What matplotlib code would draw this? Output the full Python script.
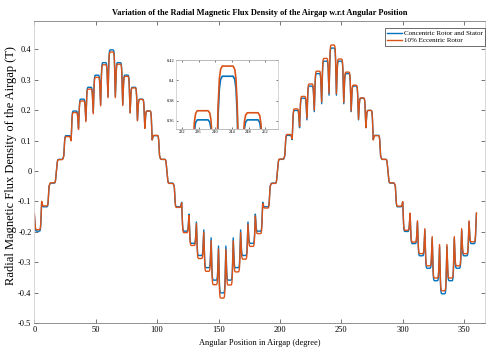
import matplotlib
matplotlib.use("Agg")
import matplotlib.pyplot as plt
import numpy as np
from matplotlib.ticker import FuncFormatter, MultipleLocator

plt.rcParams["font.family"] = ["Liberation Serif", "DejaVu Serif"]
plt.rcParams["axes.unicode_minus"] = False

# slot centre angles in degrees (60 slots, 0..360)
SLOT_DEG = list(range(0, 361, 6))

# flux density on each tooth (T), tooth k lies between slot k and slot k+1
TOOTH_CONC = [
    -0.198, -0.118, -0.040, 0.038, 0.116, 0.197, 0.236, 0.275, 0.315, 0.356,
    0.398, 0.356, 0.315, 0.275, 0.236, 0.197, 0.116, 0.038, -0.040, -0.118,
    -0.198, -0.238, -0.278, -0.318, -0.359, -0.401, -0.359, -0.318, -0.278, -0.238,
    -0.198, -0.118, -0.040, 0.038, 0.117, 0.199, 0.239, 0.279, 0.320, 0.361,
    0.404, 0.361, 0.320, 0.279, 0.239, 0.199, 0.117, 0.038, -0.040, -0.118,
    -0.199, -0.239, -0.279, -0.320, -0.361, -0.404, -0.361, -0.320, -0.279, -0.239,
]
TOOTH_ECC = [
    -0.193, -0.115, -0.039, 0.037, 0.113, 0.192, 0.230, 0.269, 0.308, 0.349,
    0.391, 0.351, 0.311, 0.273, 0.235, 0.197, 0.117, 0.038, -0.041, -0.120,
    -0.203, -0.245, -0.288, -0.330, -0.374, -0.418, -0.375, -0.332, -0.290, -0.248,
    -0.206, -0.122, -0.041, 0.039, 0.120, 0.204, 0.245, 0.286, 0.328, 0.370,
    0.414, 0.368, 0.325, 0.282, 0.240, 0.199, 0.116, 0.038, -0.039, -0.116,
    -0.195, -0.234, -0.272, -0.312, -0.352, -0.394, -0.352, -0.312, -0.272, -0.233,
]

# flux density at the bottom of each slot dip (T)
SLOT_CONC = [
    -0.142, -0.103, -0.051, -0.001, 0.050, 0.102, 0.141, 0.166, 0.192, 0.218,
    0.245, 0.245, 0.218, 0.192, 0.166, 0.141, 0.102, 0.050, -0.001, -0.051,
    -0.103, -0.142, -0.168, -0.194, -0.220, -0.247, -0.247, -0.220, -0.194, -0.168,
    -0.142, -0.103, -0.051, -0.001, 0.050, 0.103, 0.142, 0.168, 0.195, 0.221,
    0.249, 0.249, 0.221, 0.195, 0.168, 0.142, 0.103, 0.050, -0.001, -0.051,
    -0.103, -0.142, -0.168, -0.195, -0.221, -0.249, -0.249, -0.221, -0.195, -0.168,
    -0.142,
]
SLOT_ECC = [
    -0.138, -0.100, -0.050, -0.001, 0.049, 0.099, 0.137, 0.162, 0.188, 0.214,
    0.241, 0.241, 0.215, 0.190, 0.165, 0.140, 0.102, 0.050, -0.001, -0.052,
    -0.105, -0.146, -0.173, -0.201, -0.229, -0.257, -0.258, -0.230, -0.202, -0.175,
    -0.148, -0.107, -0.053, -0.001, 0.052, 0.105, 0.146, 0.173, 0.200, 0.227,
    0.255, 0.254, 0.225, 0.197, 0.170, 0.143, 0.102, 0.050, -0.001, -0.050,
    -0.101, -0.139, -0.164, -0.190, -0.216, -0.242, -0.242, -0.216, -0.190, -0.164,
    -0.138,
]

LABELS = ["Concentric Rotor and Stator", "10% Eccentric Rotor"]
COLORS = ["#0072BD", "#D95319"]

# shape of a slot flank: offset from slot centre (deg) and fraction of the rise
FLANK_OFF = [0.7, 1.0, 1.3, 1.7]
FLANK_FRAC = [0.75, 0.92, 0.98, 1.0]


def build_trace(tooth, slot):
    # tooth plateaus joined through the slot dips
    xs, ys = [], []
    n = len(tooth)
    for k, s in enumerate(SLOT_DEG):
        d = slot[k]
        if k > 0:
            prev = tooth[k - 1]
            for off, fr in zip(FLANK_OFF[::-1], FLANK_FRAC[::-1]):
                xs.append(s - off)
                ys.append(d + fr * (prev - d))
        xs.append(s)
        ys.append(d)
        if k < n:
            nxt = tooth[k]
            for off, fr in zip(FLANK_OFF, FLANK_FRAC):
                xs.append(s + off)
                ys.append(d + fr * (nxt - d))
    return np.array(xs), np.array(ys)


def tick_fmt(v, _pos):
    return f"{round(v, 6) + 0.0:g}"


def style_axes(ax, size, spine_col):
    for side in ["top", "bottom"]:
        ax.spines[side].set_color(spine_col)
        ax.spines[side].set_linewidth(0.6)
    for side in ["left", "right"]:
        ax.spines[side].set_color("#d0d0d0")
        ax.spines[side].set_linewidth(0.6)
    ax.tick_params(direction="in", top=True, right=True, length=3, width=0.5,
                   color="#404040", labelsize=size, pad=2)


traces = [build_trace(TOOTH_CONC, SLOT_CONC), build_trace(TOOTH_ECC, SLOT_ECC)]

fig = plt.figure(figsize=(4.87, 3.56), dpi=100)
ax = fig.add_axes([34.3 / 487, 1 - 323 / 356, (485 - 34.3) / 487, (323 - 21) / 356])

for (x, y), lab, col in zip(traces, LABELS, COLORS):
    ax.plot(x, y, color=col, lw=1.0, label=lab)

ax.set_xlim(0, 367)
ax.set_ylim(-0.5, 0.493)
ax.xaxis.set_major_locator(MultipleLocator(50))
ax.yaxis.set_major_locator(MultipleLocator(0.1))
ax.yaxis.set_major_formatter(FuncFormatter(tick_fmt))
style_axes(ax, 6, "#808080")

ax.set_title("Variation of the Radial Magnetic Flux Density of the Airgap w.r.t Angular Position",
             fontsize=6, fontweight="bold", pad=4)
ax.set_xlabel("Angular Position in Airgap (degree)", fontsize=6, labelpad=4)
ax.set_ylabel("Radial Magnetic Flux Density of the Airgap (T)", fontsize=9.0)
ax.yaxis.set_label_coords(-0.038, 0.52)

leg = ax.legend(loc="upper right", bbox_to_anchor=(1.0, 0.976), fontsize=5,
                frameon=True, fancybox=False, framealpha=1, edgecolor="#333333",
                borderpad=0.3, handlelength=2.2, handletextpad=0.3, labelspacing=0.2,
                borderaxespad=0)
leg.get_frame().set_linewidth(0.5)

# zoomed view around the second peak
ins = fig.add_axes([176 / 487, 1 - 129 / 356, 101.7 / 487, 69 / 356])
for (x, y), col in zip(traces, COLORS):
    ins.plot(x, y, color=col, lw=1.2)
ins.set_xlim(230.6, 255)
ins.set_ylim(0.352, 0.42)
ins.xaxis.set_major_locator(MultipleLocator(4))
ins.yaxis.set_major_locator(MultipleLocator(0.02))
ins.yaxis.set_major_formatter(FuncFormatter(tick_fmt))
style_axes(ins, 3.2, "#b0b0b0")
ins.tick_params(length=1.5, pad=1)

fig.savefig("out.png", dpi=100)
